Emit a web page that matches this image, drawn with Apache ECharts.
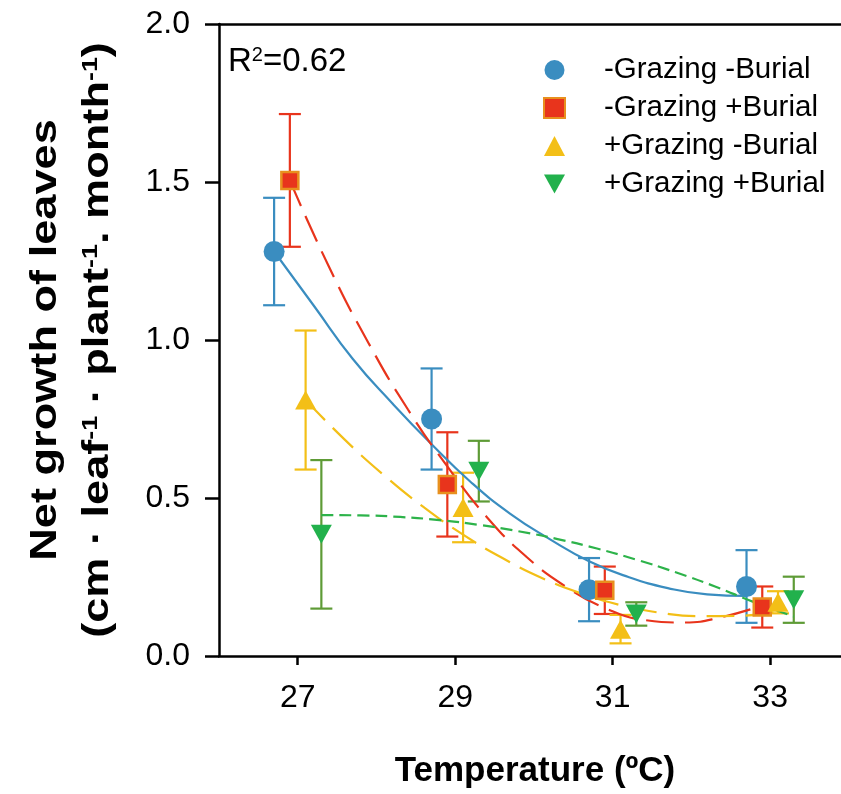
<!DOCTYPE html>
<html>
<head>
<meta charset="utf-8">
<script src="https://cdn.jsdelivr.net/npm/echarts@6/dist/echarts.min.js"></script>
<style>
html, body { margin: 0; padding: 0; background: #fff; }
#chart { width: 841px; height: 794px; }
</style>
</head>
<body>
<div id="chart"></div>
<script>
'use strict'

var FONT = '"Liberation Sans", Arial, sans-serif';

// series names, in legend order
var groupNames = ['-Grazing -Burial', '-Grazing +Burial', '+Grazing -Burial', '+Grazing +Burial'];

// measured means and error bars (temperature is offset per group)
var tempNGNB = [26.7, 28.7, 30.7, 32.7];
var meanNGNB = [1.28, 0.75, 0.21, 0.22];
var errNGNB  = [0.17, 0.16, 0.10, 0.115];

var tempNGB = [26.9, 28.9, 30.9, 32.9];
var meanNGB = [1.505, 0.543, 0.208, 0.155];
var errNGB  = [0.21, 0.165, 0.075, 0.065];

var tempGNB = [27.1, 29.1, 31.1, 33.1];
var meanGNB = [0.81, 0.47, 0.085, 0.17];
var errGNB  = [0.22, 0.11, 0.045, 0.035];

var tempGB = [27.3, 29.3, 31.3, 33.3];
var meanGB = [0.385, 0.585, 0.133, 0.178];
var errGB  = [0.235, 0.096, 0.037, 0.073];

// fitted curves
var fitXNGNB = [26.7, 27.2, 27.7, 28.2, 28.7, 29.2, 29.7, 30.2, 30.7, 31.2, 31.7, 32.2, 32.7];
var fitYNGNB = [1.28, 1.11, 0.94, 0.80, 0.67, 0.55, 0.45, 0.37, 0.30, 0.25, 0.215, 0.195, 0.19];

var fitXNGB = [26.9, 27.4, 27.9, 28.4, 28.9, 29.4, 29.9, 30.4, 30.9, 31.4, 31.9, 32.4, 32.9];
var fitYNGB = [1.505, 1.23, 0.99, 0.78, 0.60, 0.44, 0.315, 0.22, 0.152, 0.114, 0.106, 0.124, 0.16];

var fitXGNB = [27.1, 27.6, 28.1, 28.6, 29.1, 29.6, 30.1, 30.6, 31.1, 31.6, 32.1, 32.6, 33.1];
var fitYGNB = [0.81, 0.684, 0.571, 0.471, 0.384, 0.31, 0.247, 0.198, 0.161, 0.137, 0.126, 0.127, 0.141];

var fitXGB = [27.3, 27.8, 28.3, 28.8, 29.3, 29.8, 30.3, 30.8, 31.3, 31.8, 32.3, 32.8, 33.3];
var fitYGB = [0.446, 0.445, 0.44, 0.43, 0.415, 0.395, 0.37, 0.34, 0.305, 0.265, 0.22, 0.17, 0.125];

var xTicks = [27, 29, 31, 33];

function pairs(xs, ys) {
    return xs.map(function (x, i) { return [x, ys[i]]; });
}

function bars(xs, ys, es) {
    return xs.map(function (x, i) { return [x, ys[i] - es[i], ys[i] + es[i]]; });
}

function errorBar(color) {
    return function (params, api) {
        var x = api.value(0);
        var lo = api.coord([x, api.value(1)]);
        var hi = api.coord([x, api.value(2)]);
        var half = 11;
        var st = { stroke: color, lineWidth: 2.2 };
        return {
            type: 'group',
            children: [
                { type: 'line', shape: { x1: hi[0], y1: hi[1], x2: lo[0], y2: lo[1] }, style: st },
                { type: 'line', shape: { x1: hi[0] - half, y1: hi[1], x2: hi[0] + half, y2: hi[1] }, style: st },
                { type: 'line', shape: { x1: lo[0] - half, y1: lo[1], x2: lo[0] + half, y2: lo[1] }, style: st }
            ]
        };
    };
}

var blue = '#3A8DC0', red = '#E8341C', orange = '#E8901E', yellow = '#F3BF17',
    green = '#22B14C', olive = '#5E9B36', greenLine = '#2DB34A';
var downTri = 'path://M0,0 L10,0 L5,9 Z';

var chart = echarts.init(document.getElementById('chart'));

chart.setOption({
    animation: false,
    grid: { left: 219, top: 24, right: 0, bottom: 137 },
    xAxis: [{
        type: 'value',
        min: 26,
        max: 33.9,
        axisLine: { onZero: false, lineStyle: { color: '#000', width: 2.5 } },
        axisTick: { show: true, length: 9, lineStyle: { color: '#000', width: 2.5 }, customValues: xTicks },
        axisLabel: { customValues: xTicks, color: '#000', fontSize: 32, fontFamily: FONT, margin: 26 },
        splitLine: { show: false },
        name: 'Temperature (ºC)',
        nameLocation: 'middle',
        nameGap: 98,
        nameTextStyle: { color: '#000', fontSize: 35, fontWeight: 'bold', fontFamily: FONT, padding: [0, 0, 0, 10] }
    }, {
        type: 'value',
        position: 'top',
        min: 26,
        max: 33.9,
        axisLine: { show: true, onZero: false, lineStyle: { color: '#000', width: 2.5 } },
        axisTick: { show: false },
        axisLabel: { show: false },
        splitLine: { show: false }
    }],
    yAxis: {
        type: 'value',
        min: 0,
        max: 2,
        interval: 0.5,
        axisLine: { show: true, onZero: false, lineStyle: { color: '#000', width: 2.5 } },
        axisTick: { show: true, length: 14, lineStyle: { color: '#000', width: 2.5 } },
        axisLabel: {
            color: '#000', fontSize: 32, fontFamily: FONT, margin: 29,
            formatter: function (v) { return v.toFixed(1); }
        },
        splitLine: { show: false }
    },
    legend: {
        orient: 'vertical',
        left: 538,
        top: 50,
        itemWidth: 21,
        itemHeight: 20,
        itemGap: 8,
        textStyle: { color: '#000', fontSize: 29.5, fontFamily: FONT, padding: [0, 0, 0, 34] },
        data: [
            { name: groupNames[0], icon: 'circle' },
            { name: groupNames[1], icon: 'rect' },
            { name: groupNames[2], icon: 'triangle' },
            { name: groupNames[3], icon: downTri }
        ]
    },
    graphic: [
        {
            type: 'text', left: 228, top: 45,
            style: {
                text: 'R{s|2}=0.62', fill: '#000', fontSize: 33, fontFamily: FONT,
                rich: { s: { fontSize: 20, fontFamily: FONT, verticalAlign: 'top', fill: '#000' } }
            }
        },
        {
            type: 'text', x: 46, y: 340, rotation: Math.PI / 2, scaleX: 1.22,
            style: {
                text: 'Net growth of leaves', fill: '#000', fontSize: 37, fontWeight: 'bold',
                fontFamily: FONT, align: 'center', verticalAlign: 'middle'
            }
        },
        {
            type: 'text', x: 98, y: 340, rotation: Math.PI / 2, scaleX: 1.22,
            style: {
                text: '(cm · leaf{s|-1} · plant{s|-1}. month{s|-1})', fill: '#000', fontSize: 37,
                fontWeight: 'bold', fontFamily: FONT, align: 'center', verticalAlign: 'middle',
                rich: { s: { fontSize: 22, fontWeight: 'bold', fontFamily: FONT, verticalAlign: 'top', fill: '#000' } }
            }
        }
    ],
    series: [
        // markers (first, so the legend takes their look)
        { name: groupNames[0], type: 'scatter', z: 10, symbol: 'circle', symbolSize: 21,
          itemStyle: { color: blue, opacity: 1 }, data: pairs(tempNGNB, meanNGNB) },
        { name: groupNames[1], type: 'scatter', z: 10, symbol: 'rect', symbolSize: 17,
          itemStyle: { color: red, borderColor: orange, borderWidth: 2.5, opacity: 1 }, data: pairs(tempNGB, meanNGB) },
        { name: groupNames[2], type: 'scatter', z: 10, symbol: 'triangle', symbolSize: [21, 19],
          itemStyle: { color: yellow, opacity: 1 }, data: pairs(tempGNB, meanGNB) },
        { name: groupNames[3], type: 'scatter', z: 10, symbol: downTri, symbolSize: [21, 19],
          itemStyle: { color: green, opacity: 1 }, data: pairs(tempGB, meanGB) },

        // error bars
        { name: groupNames[0], type: 'custom', z: 3, renderItem: errorBar(blue), encode: { x: 0, y: [1, 2] }, data: bars(tempNGNB, meanNGNB, errNGNB) },
        { name: groupNames[1], type: 'custom', z: 3, renderItem: errorBar(red), encode: { x: 0, y: [1, 2] }, data: bars(tempNGB, meanNGB, errNGB) },
        { name: groupNames[2], type: 'custom', z: 3, renderItem: errorBar(yellow), encode: { x: 0, y: [1, 2] }, data: bars(tempGNB, meanGNB, errGNB) },
        { name: groupNames[3], type: 'custom', z: 3, renderItem: errorBar(olive), encode: { x: 0, y: [1, 2] }, data: bars(tempGB, meanGB, errGB) },

        // fitted curves
        { name: groupNames[0], type: 'line', z: 4, smooth: true, showSymbol: false,
          lineStyle: { color: blue, width: 2.2 }, data: pairs(fitXNGNB, fitYNGNB) },
        { name: groupNames[1], type: 'line', z: 4, smooth: true, showSymbol: false,
          lineStyle: { color: red, width: 2.2, type: [28, 11] }, data: pairs(fitXNGB, fitYNGB) },
        { name: groupNames[2], type: 'line', z: 4, smooth: true, showSymbol: false,
          lineStyle: { color: yellow, width: 2.2, type: [28, 11] }, data: pairs(fitXGNB, fitYGNB) },
        { name: groupNames[3], type: 'line', z: 4, smooth: true, showSymbol: false,
          lineStyle: { color: greenLine, width: 2.2, type: [12, 6] }, data: pairs(fitXGB, fitYGB) }
    ]
});
</script>
</body>
</html>
